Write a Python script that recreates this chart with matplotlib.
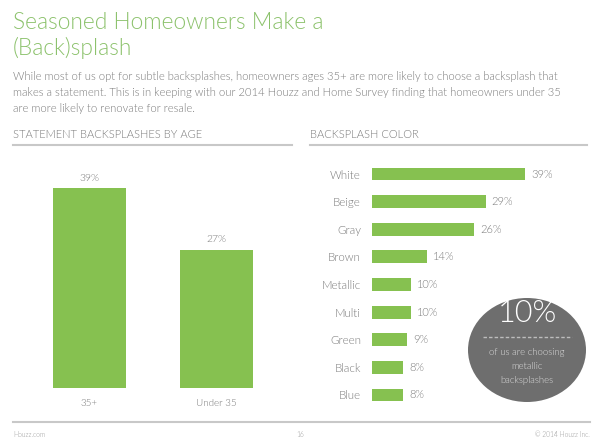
import matplotlib
matplotlib.use('Agg')
import matplotlib.pyplot as plt
from matplotlib.patches import Ellipse
from matplotlib.lines import Line2D

plt.rcParams['font.family'] = ['Lato', 'DejaVu Sans']
plt.rcParams['font.weight'] = 300

# data
age_groups = ['35+', 'Under 35']
age_values = [39, 27]
colors = ['White', 'Beige', 'Gray', 'Brown', 'Metallic', 'Multi', 'Green', 'Black', 'Blue']
color_values = [39, 29, 26, 14, 10, 10, 9, 8, 8]

GREEN = '#86c150'
TITLE_GREEN = '#8cc26c'
GRAY = '#7a7a7a'
W, H = 600, 448


def fx(x):
    return x / W


def fy(y):
    return 1 - y / H


fig = plt.figure(figsize=(6, 4.48), dpi=100)
fig.patch.set_facecolor('white')

# title + intro
fig.text(fx(13), fy(29), 'Seasoned Homeowners Make a', fontsize=16.4, color=TITLE_GREEN,
         weight=300, va='baseline')
fig.text(fx(13), fy(55), '(Back)splash', fontsize=16.4, color=TITLE_GREEN,
         weight=300, va='baseline')
intro = ['While most of us opt for subtle backsplashes, homeowners ages 35+ are more likely to choose a backsplash that',
         'makes a statement. This is in keeping with our 2014 Houzz and Home Survey finding that homeowners under 35',
         'are more likely to renovate for resale.']
for i, line in enumerate(intro):
    fig.text(fx(13), fy(77 + 16 * i), line, fontsize=8.15, color=GRAY, va='center', weight=300)

# section headings
fig.text(fx(13), fy(134), 'STATEMENT BACKSPLASHES BY AGE', fontsize=8, color=GRAY, va='center')
fig.text(fx(310), fy(134), 'BACKSPLASH COLOR', fontsize=8, color=GRAY, va='center')
fig.add_artist(Line2D([fx(13), fx(292)], [fy(145), fy(145)], color='#c8c8c8', lw=1.5))
fig.add_artist(Line2D([fx(310), fx(587)], [fy(145), fy(145)], color='#c8c8c8', lw=1.5))

# left chart: vertical bars
ax1 = fig.add_axes([fx(13), fy(388), fx(292) - fx(13), fy(188) - fy(388)])
ax1.bar(range(len(age_groups)), age_values, width=0.575, color=GREEN)
ax1.set_xlim(-0.602, 1.594)
ax1.set_ylim(0, max(age_values))
for i, v in enumerate(age_values):
    ax1.annotate(f'{v}%', (i, v), xytext=(0, 10), textcoords='offset pixels',
                 ha='center', va='center', fontsize=7.5, color=GRAY, annotation_clip=False)
ax1.set_xticks(range(len(age_groups)))
ax1.set_xticklabels(age_groups, fontsize=7.1, color=GRAY)
ax1.tick_params(axis='x', length=0, pad=8)
ax1.set_yticks([])
for s in ax1.spines.values():
    s.set_visible(False)

# right chart: horizontal bars
ax2 = fig.add_axes([fx(372), fy(409), fx(587) - fx(372), fy(160) - fy(409)])
ax2.barh(range(len(colors)), color_values, height=0.47, color=GREEN)
ax2.set_xlim(0, 54.8)
ax2.set_ylim(8.507, -0.507)
ax2.set_yticks(range(len(colors)))
ax2.set_yticklabels(colors, fontsize=8.3, color=GRAY)
ax2.tick_params(axis='y', length=0, pad=8)
ax2.set_xticks([])
for i, v in enumerate(color_values):
    ax2.annotate(f'{v}%', (v, i), xytext=(6, 0), textcoords='offset pixels',
                 ha='left', va='center', fontsize=8, color=GRAY)
for s in ax2.spines.values():
    s.set_visible(False)

# callout bubble
fig.add_artist(Ellipse((fx(527), fy(350)), 118 / W, 104 / H, facecolor='#6e6e6e', lw=0))
fig.text(fx(527), fy(314), '10%', fontsize=22, color='white', ha='center', va='center', weight=300)
fig.add_artist(Line2D([fx(483), fx(572)], [fy(337), fy(337)], color='#bdbdbd', lw=1,
                      linestyle=(0, (2.5, 1.5))))
for i, line in enumerate(['of us are choosing', 'metallic', 'backsplashes']):
    fig.text(fx(527), fy(352 + 14 * i), line, fontsize=6.8, color='#dcdcdc', ha='center', va='center')

# footer
fig.add_artist(Line2D([fx(13), fx(590)], [fy(422), fy(422)], color='#c8c8c8', lw=1.5))
fig.text(fx(13), fy(434), 'Houzz.com', fontsize=4.8, color='#999999', va='center')
fig.text(fx(300), fy(434), '16', fontsize=4.8, color='#999999', va='center', ha='center')
fig.text(fx(590), fy(434), '\u00a9 2014 Houzz Inc.', fontsize=4.8, color='#999999', va='center', ha='right')

fig.savefig('out.png', dpi=100, facecolor='white')
